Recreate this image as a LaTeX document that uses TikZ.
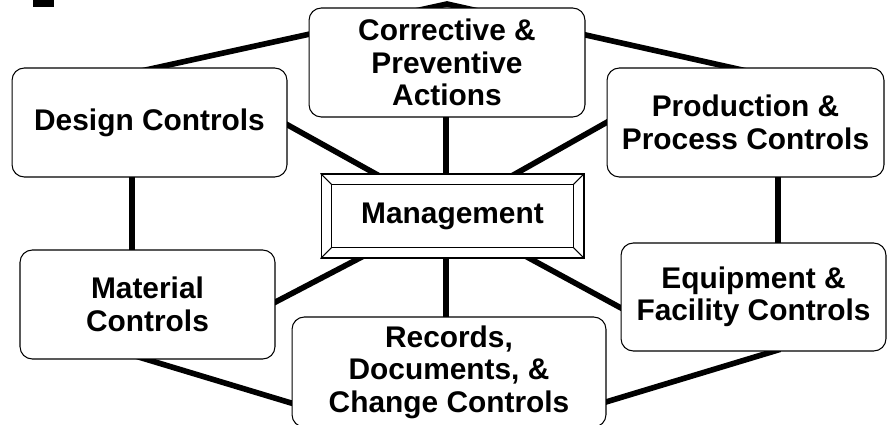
\documentclass[tikz,border=0pt]{standalone}
\usepackage{fontspec}
\setmainfont{Liberation Sans}
\usetikzlibrary{calc}

\begin{document}
\begin{tikzpicture}[x=0.02cm, y=-0.02cm,
  box/.style={draw, line width=0.6pt, fill=white, rounded corners=7pt, align=center, minimum height=2.18cm, inner sep=2pt, font=\fontsize{17}{18.5}\selectfont\bfseries},
  ring/.style={line width=3.2pt},
  spoke/.style={line width=3.2pt},
  bevel/.style={line width=0.6pt}
]
\clip (0,0) rectangle (888,425);

% outer ring
\coordinate (vd) at (132,73);
\coordinate (vc) at (447,4);
\coordinate (vp) at (778,78);
\coordinate (ve) at (778,350);
\coordinate (vr) at (447,450);
\coordinate (vm) at (132,355);
\draw[ring] (vd) -- (vc) -- (vp) -- (ve) -- (vr) -- (vm) -- cycle;

% spokes
\coordinate (hub) at (446,213);
\coordinate (sc) at (446,60);
\coordinate (sd) at (250,104);
\coordinate (sp) at (680,81);
\coordinate (sm) at (220,331);
\coordinate (se) at (680,340);
\coordinate (sr) at (446,370);
\foreach \s in {sc,sd,sp,sm,se,sr}
  \draw[spoke] (hub) -- (\s);

\fill (33,0) rectangle (54,7);

\node[box, minimum width=5.52cm] (cpa) at (447,62.5) {Corrective \&\\Preventive\\Actions};
\node[box, minimum width=5.5cm] (design) at (149.5,122.5) {Design Controls};
\node[box, minimum width=5.54cm] (prod) at (745.5,122.5) {Production \&\\Process Controls};
\node[box, minimum width=5.1cm] (material) at (147.5,304.5) {Material\\Controls};
\node[box, minimum width=5.3cm, minimum height=2.16cm] (equip) at (753.5,297) {Equipment \&\\Facility Controls};
\node[box, minimum width=6.28cm, minimum height=2.2cm] (records) at (449,372) {Records,\\Documents, \&\\Change Controls};

% management, bevelled frame
\node[draw, line width=0.6pt, fill=white, minimum width=5.26cm, minimum height=1.68cm, font=\fontsize{17}{18.5}\selectfont\bfseries] (mgmt) at (452.5,216) {Management};
\draw[bevel] ($(mgmt.north west)+(11,11)$) rectangle ($(mgmt.south east)+(-11,-11)$);
\draw[bevel] (mgmt.north west) -- ++(11,11);
\draw[bevel] (mgmt.north east) -- ++(-11,11);
\draw[bevel] (mgmt.south west) -- ++(11,-11);
\draw[bevel] (mgmt.south east) -- ++(-11,-11);

\end{tikzpicture}
\end{document}
